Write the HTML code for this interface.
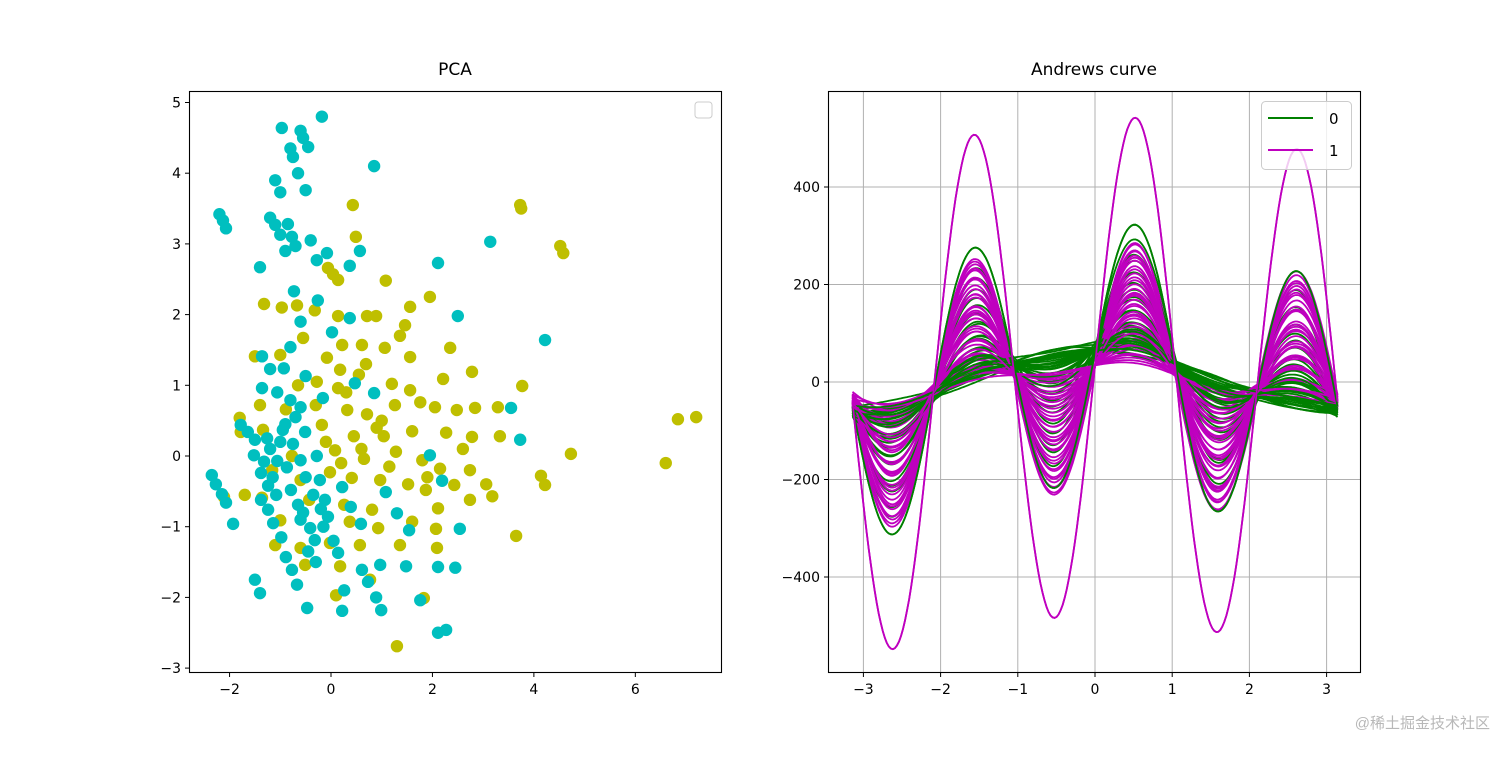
<!DOCTYPE html>
<html><head><meta charset="utf-8"><style>
body{margin:0;background:#fff;}
svg text{font-family:"DejaVu Sans","Liberation Sans",sans-serif;}
</style></head><body>
<svg id="fig" width="1512" height="756" viewBox="0 0 1512 756" xmlns="http://www.w3.org/2000/svg">
<rect width="1512" height="756" fill="#fff"/>
<g id="left"></g>
<g id="right"></g>
<text x="1490" y="728" text-anchor="end" font-size="15" fill="#b8b8b8" style="font-family:'Liberation Sans','Noto Sans CJK SC',sans-serif">@稀土掘金技术社区</text>
</svg>
<script>
// PCA scatter data
const cyanX=[-0.97,-0.18,-0.6,-0.55,-0.45,-0.8,-0.75,-0.65,-1.1,-1.0,-0.5,0.85,-2.2,-2.13,-2.07,-1.2,-1.1,-0.85,-1.0,-0.77,-0.7,-0.9,-0.4,-0.08,-0.28,0.37,0.57,-1.4,2.11,3.14,-0.73,-0.26,2.5,0.37,-0.6,0.02,4.22,-0.8,-1.36,-1.2,-0.93,-0.5,-1.36,-1.06,-0.8,-0.6,-0.16,0.47,0.85,3.55,3.73,-1.78,-1.64,-1.5,-1.26,-0.95,-0.75,-0.51,-1.52,-1.32,-1.06,-0.87,-0.6,-0.28,-2.35,-2.27,-2.15,-2.07,-1.93,-1.38,-1.24,-1.08,-1.38,-1.24,-1.14,-0.79,-0.65,-0.6,-0.41,-0.32,-0.22,-0.12,-0.06,0.22,0.39,0.59,1.08,1.3,1.54,1.95,2.19,2.54,-0.89,-0.77,-0.67,-0.47,-1.5,-1.4,0.14,0.26,0.22,0.61,0.73,0.89,0.99,0.97,1.48,1.76,2.11,2.45,2.11,2.27,-1.2,-1.0,-0.9,-0.7,-0.5,-0.35,-0.2,-0.45,-0.3,-0.15,0.05,-1.15,-0.98,-0.55];
const cyanY=[4.64,4.8,4.6,4.5,4.37,4.35,4.23,4.0,3.9,3.73,3.76,4.1,3.42,3.33,3.22,3.37,3.27,3.28,3.13,3.1,2.97,2.9,3.05,2.87,2.77,2.69,2.9,2.67,2.73,3.03,2.33,2.2,1.98,1.95,1.9,1.75,1.64,1.54,1.41,1.23,1.24,1.13,0.96,0.9,0.79,0.69,0.82,1.03,0.89,0.68,0.23,0.44,0.34,0.23,0.25,0.37,0.17,0.34,0.01,-0.08,-0.07,-0.16,-0.06,0,-0.27,-0.4,-0.54,-0.66,-0.96,-0.24,-0.42,-0.55,-0.62,-0.76,-0.95,-0.48,-0.69,-0.9,-1.02,-1.19,-0.34,-0.62,-0.86,-0.44,-0.72,-0.96,-0.51,-0.81,-1.05,0.01,-0.35,-1.03,-1.43,-1.61,-1.82,-2.15,-1.75,-1.94,-1.37,-1.9,-2.19,-1.61,-1.78,-2.0,-2.18,-1.54,-1.56,-2.04,-1.57,-1.58,-2.5,-2.46,0.1,0.2,0.45,0.55,-0.3,-0.55,-0.75,-1.35,-1.5,-1.0,-1.2,-0.3,-1.15,-0.8];
const oliveX=[0.43,3.73,3.75,4.52,4.58,-0.06,0.04,0.14,1.08,0.49,-1.32,-0.97,-0.67,-0.32,1.95,1.56,0.14,0.71,0.89,1.46,1.36,-0.55,0.22,0.61,1.06,2.35,-1.5,-0.08,-1.0,0.18,0.69,1.56,2.78,2.21,3.77,-0.65,-0.28,0.14,1.2,1.56,-1.8,-1.4,-0.89,-0.3,0.32,0.71,1.26,1.76,2.05,2.48,2.84,3.29,6.84,7.2,6.6,-1.78,-0.18,0.45,1.04,1.6,2.27,2.78,3.33,-0.77,0.08,0.65,1.28,1.8,2.15,2.74,4.73,4.14,4.22,-1.16,-0.6,-0.02,0.41,0.97,1.52,1.87,2.43,3.06,3.18,-2.11,-1.36,-0.43,0.26,0.81,2.11,2.74,-1.0,0.37,0.93,1.6,2.07,3.65,-0.6,-0.02,0.57,1.36,2.09,-0.51,0.18,0.77,0.1,1.83,1.3,-1.34,-1.7,-1.1,0.3,0.55,0.9,1.15,-0.1,0.2,0.6,1.0,1.9,2.6];
const oliveY=[3.55,3.55,3.5,2.97,2.87,2.66,2.57,2.49,2.48,3.1,2.15,2.1,2.13,2.06,2.25,2.11,1.98,1.98,1.98,1.85,1.7,1.67,1.57,1.57,1.53,1.53,1.41,1.39,1.43,1.22,1.3,1.4,1.19,1.09,0.99,1.0,1.05,0.96,1.02,0.93,0.54,0.72,0.66,0.72,0.65,0.59,0.72,0.76,0.69,0.65,0.68,0.69,0.52,0.55,-0.1,0.34,0.44,0.28,0.28,0.35,0.33,0.27,0.28,0,0.08,-0.04,0.06,-0.06,-0.18,-0.2,0.03,-0.28,-0.41,-0.2,-0.34,-0.23,-0.31,-0.34,-0.4,-0.48,-0.41,-0.4,-0.57,-0.58,-0.59,-0.62,-0.69,-0.76,-0.74,-0.62,-0.91,-0.93,-1.02,-0.93,-1.03,-1.13,-1.3,-1.23,-1.26,-1.26,-1.3,-1.54,-1.56,-1.75,-1.97,-2.01,-2.69,0.37,-0.55,-1.26,0.9,1.15,0.4,-0.15,0.2,-0.1,0.1,0.5,-0.3,0.1];
const pcaXTicks=[-2,0,2,4,6];
const pcaYTicks=[-3,-2,-1,0,1,2,3,4,5];
// Andrews curve coefficients: f(t)=a0 + c1*cos t + s1*sin t + s3*sin 3t
const gS3=[270,230,205,185,165,148,132,118,105,95,85,76,68,60,53,47,41,36,31,27,23,19,16,13,10,8,6,4,2,0,-2,-4,25,35,45,55,12,18,28,8];
const gC1=[55,60,65,55,62,68,52,60,66,58,64,70,56,62,68,72,58,64,54,66,60,70,56,64,68,60,66,58,62,70,64,60,55,65,60,58,72,66,62,56];
const gA0=[5,8,2,12,6,0,10,4,8,-2,6,10,2,8,4,0,10,6,-4,4,8,0,12,6,2,10,4,8,0,6,2,10,8,4,6,0,10,2,6,8];
const gS1=[0,5,-5,8,0,-8,4,0,-4,6,0,-6,3,0,-3,5,0,-5,2,0,-2,4,0,-4,0,3,-3,6,-6,0,2,-2,4,-4,0,5,-5,1,-1,0];
const mS3=[512,258,252,246,240,234,227,220,212,204,196,188,180,172,164,156,148,140,132,124,116,108,100,92,84,76,68,60,54,48,42,36,30,25,20,15,10,150,110,70];
const mC1=[37,38,32,42,35,40,30,38,34,44,32,40,36,30,42,34,40,32,38,30,42,36,30,40,34,42,30,36,32,40,28,36,42,30,38,34,40,36,32,38];
const mA0=[-3,-6,0,-10,-4,-8,2,-6,-2,-12,0,-8,-4,4,-10,-2,-6,0,-4,6,-10,-2,4,-6,0,-8,6,-2,2,-6,8,-2,-8,4,-4,0,-6,-2,2,-4];
const mS1=[2,0,5,-5,3,-3,0,4,-4,2,-2,0,3,-3,1,-1,0,2,-2,0,3,-3,1,-1,0,2,-2,0,1,-1,0,2,-2,0,1,-1,0,2,-2,0];
const andXTicks=[-3,-2,-1,0,1,2,3];
const andYTicks=[-400,-200,0,200,400];

const NS="http://www.w3.org/2000/svg";
function mk(parent,tag,attrs){const e=document.createElementNS(NS,tag);for(const k in attrs)e.setAttribute(k,attrs[k]);parent.appendChild(e);return e;}
function fmt(v){return v<0?"\u2212"+Math.abs(v):String(v);}

// ---- Left panel
const L=document.getElementById('left');
const lx=v=>331+v*50.72, ly=v=>456-v*70.7;
mk(L,'rect',{x:189.5,y:91.5,width:532,height:581,fill:'#fff'});
const dots=mk(L,'g',{});


function drawPts(xs,ys,col,name){for(let i=0;i<xs.length;i++){const c=mk(dots,'circle',{cx:lx(xs[i]),cy:ly(ys[i]),r:6.2,fill:col});

}}
drawPts(oliveX,oliveY,'#bfbf00','point-olive');
drawPts(cyanX,cyanY,'#00bfbf','point-cyan');
const lf=mk(L,'rect',{x:189.5,y:91.5,width:532,height:581,fill:'none',stroke:'#000','stroke-width':1.1});


pcaXTicks.forEach(v=>{const x=lx(v);mk(L,'line',{x1:x,x2:x,y1:672.5,y2:677,stroke:'#000'});
const t=mk(L,'text',{x:x,y:694,'text-anchor':'middle','font-size':14});t.textContent=fmt(v);

});
pcaYTicks.forEach(v=>{const y=ly(v);mk(L,'line',{x1:185,x2:189.5,y1:y,y2:y,stroke:'#000'});
const t=mk(L,'text',{x:181,y:y+5,'text-anchor':'end','font-size':14});t.textContent=fmt(v);

});
const lt=mk(L,'text',{x:455,y:75,'text-anchor':'middle','font-size':17});lt.textContent='PCA';


const el=mk(L,'rect',{x:695,y:102,width:17,height:16,rx:3,fill:'#fff',stroke:'#ccc'});



// ---- Right panel
const R=document.getElementById('right');
const rx=v=>1095+v*77.2, ry=v=>382-v*0.4875;
const grid=mk(R,'g',{stroke:'#b0b0b0','stroke-width':1});


andXTicks.forEach(v=>mk(grid,'line',{x1:rx(v),x2:rx(v),y1:91,y2:673}));
andYTicks.forEach(v=>mk(grid,'line',{x1:828,x2:1360,y1:ry(v),y2:ry(v)}));
const curves=mk(R,'g',{fill:'none','stroke-width':1.8});


function drawCurve(a0,c1,s1,s3,col,name){let d='';const N=240;for(let i=0;i<=N;i++){const t=-Math.PI+2*Math.PI*i/N;const f=a0+c1*Math.cos(t)+s1*Math.sin(t)+s3*Math.sin(3*t);d+=(i?'L':'M')+rx(t).toFixed(1)+','+ry(f).toFixed(1);}
const p=mk(curves,'path',{d:d,stroke:col});

}
const n=Math.max(gS3.length,mS3.length);
for(let i=0;i<n;i++){
 if(i<gS3.length)drawCurve(gA0[i],gC1[i],gS1[i],gS3[i],'#008000','curve-class-0');
 if(i<mS3.length)drawCurve(mA0[i],mC1[i],mS1[i],mS3[i],'#bf00bf','curve-class-1');
}
drawCurve(gA0[0],gC1[0],gS1[0],gS3[0],'#008000','curve-class-0');
drawCurve(mA0[0],mC1[0],mS1[0],mS3[0],'#bf00bf','curve-class-1');
const rf=mk(R,'rect',{x:828.5,y:91.5,width:532,height:581,fill:'none',stroke:'#000','stroke-width':1.1});


andXTicks.forEach(v=>{const x=rx(v);mk(R,'line',{x1:x,x2:x,y1:672.5,y2:677,stroke:'#000'});
const t=mk(R,'text',{x:x,y:694,'text-anchor':'middle','font-size':14});t.textContent=fmt(v);

});
andYTicks.forEach(v=>{const y=ry(v);mk(R,'line',{x1:824,x2:828.5,y1:y,y2:y,stroke:'#000'});
const t=mk(R,'text',{x:820,y:y+5,'text-anchor':'end','font-size':14});t.textContent=fmt(v);

});
const rt=mk(R,'text',{x:1094,y:75,'text-anchor':'middle','font-size':17});rt.textContent='Andrews curve';


const lg=mk(R,'g',{});


mk(lg,'rect',{x:1261.5,y:101.5,width:90,height:68,rx:4,fill:'#fff','fill-opacity':0.8,stroke:'#ccc'});
mk(lg,'line',{x1:1268,x2:1313,y1:118,y2:118,stroke:'#008000','stroke-width':2});
mk(lg,'line',{x1:1268,x2:1313,y1:150,y2:150,stroke:'#bf00bf','stroke-width':2});
const l0=mk(lg,'text',{x:1329,y:124,'font-size':15});l0.textContent='0';


const l1=mk(lg,'text',{x:1329,y:156,'font-size':15});l1.textContent='1';


</script>
</body></html>
